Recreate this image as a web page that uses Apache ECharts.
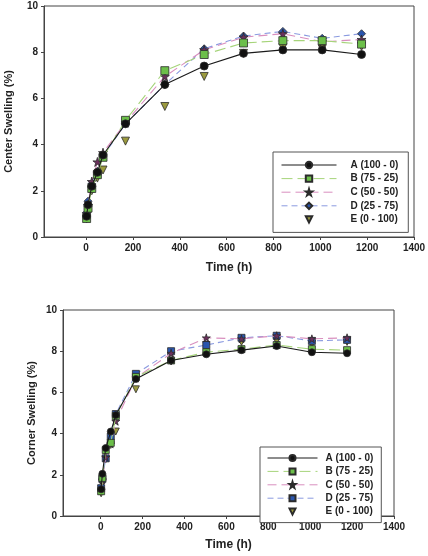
<!DOCTYPE html>
<html>
<head>
<meta charset="utf-8">
<script src="https://cdn.jsdelivr.net/npm/echarts@6/dist/echarts.min.js"></script>
<style>
  html, body { margin: 0; padding: 0; background: #fff; }
  #top { position: absolute; left: 0; top: 0; width: 428px; height: 280px; }
  #bottom { position: absolute; left: 0; top: 280px; width: 428px; height: 276px; }
</style>
</head>
<body>
<div id="top"></div>
<div id="bottom"></div>
<script>
// sampling times (h)
const times = [2, 8, 24, 48, 72, 168, 336, 504, 672, 840, 1008, 1176];
const names = ['A (100 - 0)', 'B (75 - 25)', 'C (50 - 50)', 'D (25 - 75)', 'E (0 - 100)'];
const xTicks = [0, 200, 400, 600, 800, 1000, 1200, 1400];

// center swelling (%)
const centerA = [0.9, 1.4, 2.2, 2.8, 3.55, 4.9, 6.6, 7.4, 7.95, 8.1, 8.1, 7.9];
const centerB = [0.8, 1.25, 2.1, 2.7, 3.45, 5.05, 7.2, 7.9, 8.4, 8.5, 8.5, 8.35];
const centerC = [1.0, 1.35, 2.4, 3.25, 3.65, 4.95, 6.95, 8.1, 8.65, 8.8, 8.45, 8.55];
const centerD = [1.05, 1.55, 2.3, 2.85, 3.5, 4.9, 6.6, 8.15, 8.7, 8.9, 8.6, 8.8];
const centerE = [0.78, 1.15, 2.0, 2.55, 2.9, 4.15, 5.65, 6.95, 7.95, 8.2, 8.15, 8.25];

// corner swelling (%)
const cornerA = [1.3, 2.05, 3.3, 4.1, 4.9, 6.65, 7.55, 7.85, 8.05, 8.25, 7.95, 7.9];
const cornerB = [1.2, 1.85, 3.2, 3.55, 4.85, 6.75, 7.55, 7.95, 8.1, 8.3, 8.1, 8.05];
const cornerC = [1.25, 1.75, 2.85, 3.5, 4.6, 6.7, 7.9, 8.65, 8.6, 8.75, 8.6, 8.65];
const cornerD = [1.35, 1.8, 2.8, 3.85, 4.95, 6.9, 8.0, 8.3, 8.65, 8.75, 8.5, 8.55];
const cornerE = [1.1, 1.6, 2.75, 3.45, 4.1, 6.15, 7.5, 8.3, 8.45, 8.5, 8.35, 8.45];

const starPath = 'path://M50,0 L61,35 L98,35 L68,57 L79,91 L50,70 L21,91 L32,57 L2,35 L39,35 Z';
const triDown = 'path://M0,0 L10,0 L5,9 Z';
const font = 'Liberation Sans, Arial, sans-serif';

const styles = [
  { line: '#1a1a1a', type: 'solid', fill: '#111111', symbol: 'circle' },
  { line: '#a6d47a', type: [11, 5], fill: '#6cbf4a', symbol: 'rect' },
  { line: '#d98fbf', type: [9, 5], fill: '#6b2f5c', symbol: starPath },
  { line: '#8a9ae0', type: [6, 4], fill: '#2a55ad', symbol: null },
  { line: '#ffffff', type: 'solid', fill: '#9b9a3e', symbol: triDown }
];

function pairs(arr) {
  return times.map(function (t, i) { return [t, arr[i]]; });
}

function makeSeries(sets, dSymbol, size) {
  return sets.map(function (arr, i) {
    const s = styles[i];
    return {
      name: names[i],
      type: 'line',
      data: pairs(arr),
      symbol: s.symbol || dSymbol,
      symbolSize: i === 2 ? size + 1 : size,
      showSymbol: true,
      z: 10 - i,
      lineStyle: { color: s.line, width: i === 4 ? 0 : 1.1, type: s.type, opacity: i === 4 ? 0 : 1 },
      itemStyle: { color: s.fill, borderColor: '#2b2b2b', borderWidth: 0.8 },
      emphasis: { disabled: true },
      animation: false
    };
  });
}

function legendData() {
  return names.map(function (n, i) {
    return {
      name: n,
      lineStyle: { width: 1, color: styles[i].line, type: styles[i].type, opacity: i === 4 ? 0 : 1 }
    };
  });
}

function makeOption(cfg) {
  return {
    animation: false,
    grid: {
      left: cfg.grid[0], top: cfg.grid[1], width: cfg.grid[2], height: cfg.grid[3],
      outerBoundsMode: 'none',
      show: true, borderColor: '#444', borderWidth: 1, backgroundColor: '#fff'
    },
    legend: {
      orient: 'vertical',
      left: cfg.legend[0], top: cfg.legend[1],
      itemWidth: cfg.legend[2], itemHeight: cfg.legend[3], itemGap: cfg.legend[4],
      padding: cfg.legend[5],
      borderColor: '#555', borderWidth: 1, backgroundColor: '#fff',
      selectedMode: false,
      textStyle: { fontFamily: font, fontSize: 10, fontWeight: 'bold', color: '#222', padding: [0, 0, 0, cfg.legend[6]] },
      data: legendData()
    },
    xAxis: {
      type: 'value', min: -180, max: 1400,
      name: 'Time (h)', nameLocation: 'middle', nameGap: cfg.xGap,
      nameTextStyle: { fontFamily: font, fontSize: 12, fontWeight: 'bold', color: '#222' },
      axisLine: { show: true, onZero: false, lineStyle: { color: '#444', width: 1 } },
      axisTick: { show: true, length: 3, lineStyle: { color: '#444' }, customValues: xTicks },
      axisLabel: {
        fontFamily: font, fontSize: 10, fontWeight: 'bold', color: '#222', margin: 6,
        customValues: xTicks,
        formatter: function (v) { return String(v); }
      },
      splitLine: { show: false }
    },
    yAxis: {
      type: 'value', min: 0, max: 10, interval: 2,
      name: cfg.yName, nameLocation: 'middle', nameGap: cfg.yGap, nameMoveOverlap: false,
      nameTextStyle: { fontFamily: font, fontSize: 11, fontWeight: 'bold', color: '#222' },
      axisLine: { show: true, onZero: false, lineStyle: { color: '#444', width: 1 } },
      axisTick: { show: true, length: 3, lineStyle: { color: '#444' } },
      axisLabel: { fontFamily: font, fontSize: 10, fontWeight: 'bold', color: '#222', margin: 6 },
      splitLine: { show: false }
    },
    series: cfg.series
  };
}

const topChart = echarts.init(document.getElementById('top'));
topChart.setOption(makeOption({
  grid: [44, 6, 370, 231],
  legend: [273, 152, 55, 8, 3.6, [8, 10, 8, 8], 9],
  xGap: 25,
  yGap: 30,
  yName: 'Center Swelling (%)',
  series: makeSeries([centerA, centerB, centerC, centerD, centerE], 'diamond', 8)
}));

const bottomChart = echarts.init(document.getElementById('bottom'));
bottomChart.setOption(makeOption({
  grid: [63, 30, 331, 206],
  legend: [260, 167, 50, 7.5, 3.4, [6, 8, 6, 7], 3],
  xGap: 23,
  yGap: 26,
  yName: 'Corner Swelling (%)',
  series: makeSeries([cornerA, cornerB, cornerC, cornerD, cornerE], 'rect', 7)
}));
</script>
</body>
</html>
